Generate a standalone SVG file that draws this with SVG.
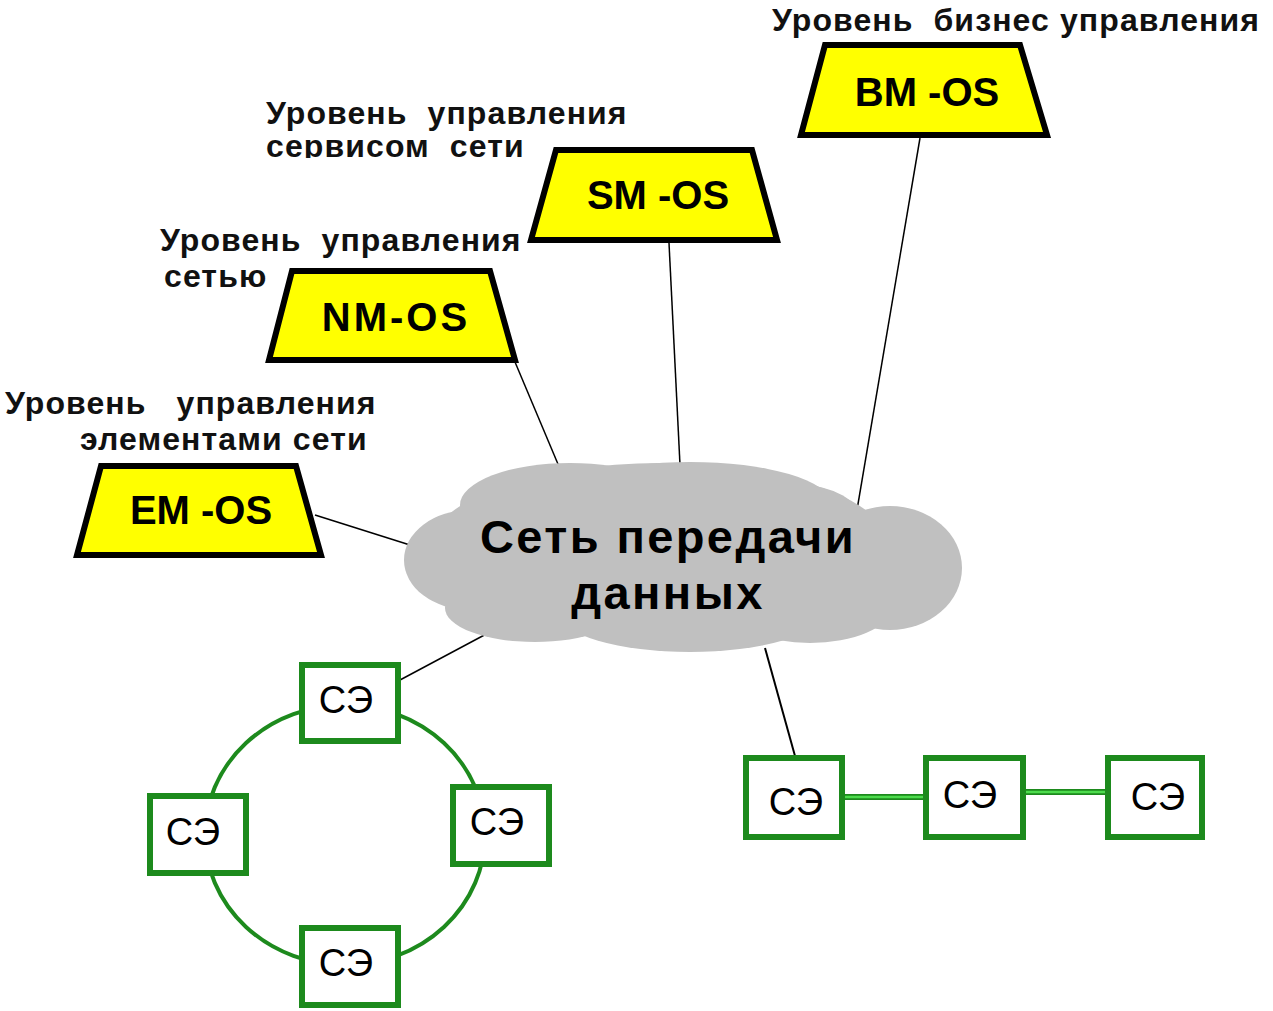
<svg xmlns="http://www.w3.org/2000/svg" width="1273" height="1011" viewBox="0 0 1273 1011">
<style>
.lbl{font-family:"Liberation Sans",Arial,sans-serif;font-weight:bold;font-size:32px;fill:#111;letter-spacing:1.1px;white-space:pre}
.os{fill:#ffff00;stroke:#000;stroke-width:6;stroke-linejoin:miter}
.ostxt{font-family:"Liberation Sans",Arial,sans-serif;font-weight:bold;font-size:40px;fill:#000;text-anchor:middle;white-space:pre}
.se{fill:#fff;stroke:#1d8a1d;stroke-width:6}
.setxt{font-family:"Liberation Sans",Arial,sans-serif;font-size:38px;fill:#000;text-anchor:middle}
.cl{fill:#c0c0c0}
.ln{stroke:#000;stroke-width:1.5;fill:none}
.cltxt{font-family:"Liberation Sans",Arial,sans-serif;font-weight:bold;font-size:47px;fill:#000;text-anchor:middle;letter-spacing:2.4px}
</style>
<defs>
<clipPath id="cut"><rect x="0" y="0" width="700" height="158"/></clipPath>
</defs>
<rect width="1273" height="1011" fill="#fff"/>
<g id="labels" xml:space="preserve">
<text class="lbl" x="772" y="31">Уровень  бизнес управления</text>
<text class="lbl" x="266" y="124">Уровень  управления</text>
<text class="lbl" x="266" y="157" clip-path="url(#cut)">сервисом  сети</text>
<text class="lbl" x="160" y="251">Уровень  управления</text>
<text class="lbl" x="164" y="287">сетью</text>
<text class="lbl" x="5" y="414">Уровень   управления</text>
<text class="lbl" x="80" y="450">элементами сети</text>
</g>
<g id="connectors">
<line class="ln" x1="920" y1="138" x2="857" y2="510"/>
<line class="ln" x1="669" y1="243" x2="680" y2="465"/>
<line class="ln" x1="515" y1="362" x2="563" y2="476"/>
<line class="ln" x1="315" y1="515" x2="410" y2="545"/>
<line class="ln" x1="490" y1="632" x2="400" y2="680"/>
<line x1="765" y1="648" x2="795" y2="756" stroke="#000" stroke-width="2"/>
<ellipse cx="345" cy="835" rx="140" ry="130" fill="none" stroke="#1d8a1d" stroke-width="4"/>
<line x1="842" y1="797" x2="925" y2="797" stroke="#1d8a1d" stroke-width="6"/>
<line x1="842" y1="797" x2="925" y2="797" stroke="#4ddc4d" stroke-width="2.5"/>
<line x1="1024" y1="792" x2="1115" y2="792" stroke="#1d8a1d" stroke-width="6"/>
<line x1="1024" y1="792" x2="1115" y2="792" stroke="#4ddc4d" stroke-width="2.5"/>
</g>
<g id="cloud">
<ellipse class="cl" cx="660" cy="548" rx="230" ry="85"/>
<ellipse class="cl" cx="470" cy="560" rx="66" ry="50"/>
<ellipse class="cl" cx="570" cy="505" rx="110" ry="42"/>
<ellipse class="cl" cx="690" cy="503" rx="140" ry="41"/>
<ellipse class="cl" cx="800" cy="520" rx="60" ry="35"/>
<ellipse class="cl" cx="890" cy="568" rx="72" ry="62"/>
<ellipse class="cl" cx="535" cy="608" rx="90" ry="34"/>
<ellipse class="cl" cx="690" cy="614" rx="130" ry="38"/>
<ellipse class="cl" cx="810" cy="608" rx="80" ry="35"/>
<text class="cltxt" x="668" y="553">Сеть передачи</text>
<text class="cltxt" x="668" y="609">данных</text>
</g>
<g id="bm-os" xml:space="preserve">
<polygon class="os" points="825,45 1020,45 1047,135 801,135"/>
<text class="ostxt" x="927" y="106">BM -OS</text>
</g>
<g id="sm-os" xml:space="preserve">
<polygon class="os" points="556,150 752,150 777,240 531,240"/>
<text class="ostxt" x="658" y="209">SM -OS</text>
</g>
<g id="nm-os">
<polygon class="os" points="292,271 490,271 515,360 269,360"/>
<text class="ostxt" x="396" y="331" letter-spacing="3">NM-OS</text>
</g>
<g id="em-os" xml:space="preserve">
<polygon class="os" points="101,466 296,466 321,555 77,555"/>
<text class="ostxt" x="201" y="524">EM -OS</text>
</g>
<g id="se-top"><rect class="se" x="302" y="665" width="96" height="76"/><text class="setxt" x="346" y="713">СЭ</text></g>
<g id="se-left"><rect class="se" x="150" y="796" width="96" height="77"/><text class="setxt" x="193" y="845">СЭ</text></g>
<g id="se-right"><rect class="se" x="453" y="787" width="96" height="77"/><text class="setxt" x="497" y="835">СЭ</text></g>
<g id="se-bottom"><rect class="se" x="302" y="928" width="96" height="77"/><text class="setxt" x="346" y="976">СЭ</text></g>
<g id="se-1"><rect class="se" x="746" y="758" width="96" height="79"/><text class="setxt" x="796" y="815">СЭ</text></g>
<g id="se-2"><rect class="se" x="926" y="758" width="97" height="79"/><text class="setxt" x="970" y="808">СЭ</text></g>
<g id="se-3"><rect class="se" x="1108" y="758" width="94" height="79"/><text class="setxt" x="1158" y="810">СЭ</text></g>
</svg>
